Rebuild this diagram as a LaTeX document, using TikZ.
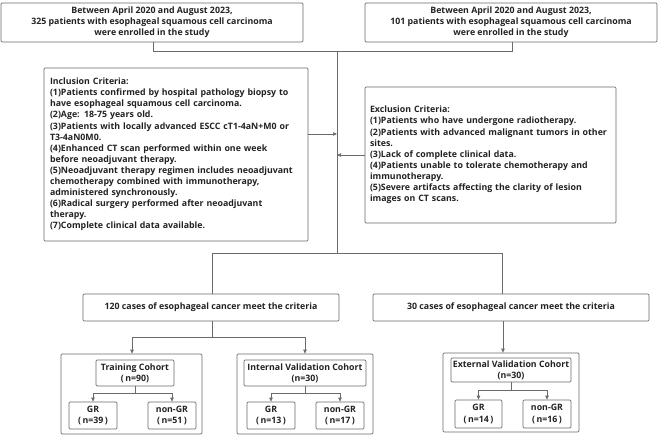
\documentclass[tikz,border=0pt]{standalone}
\usepackage{fontspec}
\setmainfont{Open Sans}
\usetikzlibrary{arrows.meta}
\definecolor{linegray}{HTML}{6A6A6A}
\definecolor{textgray}{HTML}{222222}
\begin{document}
\begin{tikzpicture}[
    x=1pt, y=-1pt,
    font=\fontsize{8.8}{11.1}\selectfont\bfseries,
    box/.style={draw=linegray, rounded corners=1.2pt, line width=0.7pt, text=textgray, inner sep=0pt},
    flowline/.style={draw=linegray, line width=0.7pt},
    flowarrow/.style={flowline, -{Triangle[length=4pt, width=3.4pt]}}
]
    \useasboundingbox (0,0) rectangle (661,437);

    % Enrolled patients
    \node[box, minimum width=302, minimum height=39, align=center] (enrolA) at (152,22.5)
        {Between April 2020 and August 2023,\\325 patients with esophageal squamous cell carcinoma\\were enrolled in the study};
    \node[box, minimum width=292, minimum height=39, align=center] (enrolB) at (511,22.5)
        {Between April 2020 and August 2023,\\101 patients with esophageal squamous cell carcinoma\\were enrolled in the study};

    % Criteria
    \node[box, minimum width=264, minimum height=173, text width=252, align=left] (incl) at (176,154.5)
        {Inclusion Criteria:\\
        (1)Patients confirmed by hospital pathology biopsy to\\
        have esophageal squamous cell carcinoma.\\
        (2)Age: 18-75 years old.\\
        (3)Patients with locally advanced ESCC cT1-4aN+M0 or\\
        T3-4aN0M0.\\
        (4)Enhanced CT scan performed within one week\\
        before neoadjuvant therapy.\\
        (5)Neoadjuvant therapy regimen includes neoadjuvant\\
        chemotherapy combined with immunotherapy,\\
        administered synchronously.\\
        (6)Radical surgery performed after neoadjuvant\\
        therapy.\\
        (7)Complete clinical data available.};
    \node[box, minimum width=251, minimum height=136, text width=241, align=left] (excl) at (490.5,155)
        {Exclusion Criteria:\\
        (1)Patients who have undergone radiotherapy.\\
        (2)Patients with advanced malignant tumors in other\\
        sites.\\
        (3)Lack of complete clinical data.\\
        (4)Patients unable to tolerate chemotherapy and\\
        immunotherapy.\\
        (5)Severe artifacts affecting the clarity of lesion\\
        images on CT scans.};

    % Eligible cases
    \node[box, minimum width=256, minimum height=27] (elig120) at (211,307.5)
        {120 cases of esophageal cancer meet the criteria};
    \node[box, minimum width=276, minimum height=27] (elig30) at (511,307.5)
        {30 cases of esophageal cancer meet the criteria};

    % Cohorts
    \node[box, minimum width=141, minimum height=80] (trainOut) at (131.5,394) {};
    \node[box, minimum width=78, minimum height=26, align=center] (trainIn) at (135,373)
        {Training Cohort\\(\,n=90)};
    \node[box, minimum width=48, minimum height=27, align=center] (trainGR) at (93,415.5)
        {GR\\(\,n=39\,)};
    \node[box, minimum width=48, minimum height=27, align=center] (trainNon) at (172,415.5)
        {non-GR\\(\,n=51\,)};

    \node[box, minimum width=136, minimum height=80] (intOut) at (305,394) {};
    \node[box, minimum width=122, minimum height=26, align=center] (intIn) at (305,373)
        {Internal Validation Cohort\\(n=30)};
    \node[box, minimum width=48, minimum height=27, align=center] (intGR) at (271,415.5)
        {GR\\(\,n=13\,)};
    \node[box, minimum width=48, minimum height=27, align=center] (intNon) at (340,415.5)
        {non-GR\\(\,n=17\,)};

    \node[box, minimum width=136, minimum height=79] (extOut) at (511,392.5) {};
    \node[box, minimum width=120, minimum height=24, align=center] (extIn) at (511,370)
        {External Validation Cohort\\(n=30)};
    \node[box, minimum width=47, minimum height=28, align=center] (extGR) at (478.5,414)
        {GR\\(\,n=14\,)};
    \node[box, minimum width=48, minimum height=28, align=center] (extNon) at (547,414)
        {non-GR\\(\,n=16\,)};

    % Junction points
    \coordinate (joinTop) at (337,51);
    \coordinate (joinBot) at (337,253);
    \coordinate (inclIn) at (337,134);
    \coordinate (exclOut) at (337,155);
    \coordinate (split) at (212,253);
    \coordinate (split120) at (212,337);
    \coordinate (splitTrain) at (135,393);
    \coordinate (splitInt) at (305,393);
    \coordinate (splitExt) at (511,390);

    % Main flow
    \draw[flowline] (enrolA.south -| 153,0) |- (joinTop);
    \draw[flowline] (enrolB.south -| 512,0) |- (joinTop);
    \draw[flowline] (joinTop) -- (joinBot);
    \draw[flowarrow] (incl.east |- inclIn) -- (inclIn);
    \draw[flowarrow] (excl.west) -- (exclOut);
    \draw[flowline] (split) -- (elig120.north -| split);
    \draw[flowline] (split) -| (elig30.north -| 502,0);

    % Split into cohorts
    \draw[flowline] (elig120.south -| split120) -- (split120);
    \draw[flowarrow] (split120) -| (trainOut.north -| 132,0);
    \draw[flowarrow] (split120) -| (intOut.north);
    \draw[flowarrow] (elig30.south -| 503,0) -- (extOut.north -| 503,0);

    % Split into GR / non-GR
    \draw[flowline] (trainIn.south) -- (splitTrain);
    \draw[flowarrow] (splitTrain) -| (trainGR.north);
    \draw[flowarrow] (splitTrain) -| (trainNon.north);
    \draw[flowline] (intIn.south) -- (splitInt);
    \draw[flowarrow] (splitInt) -| (intGR.north);
    \draw[flowarrow] (splitInt) -| (intNon.north);
    \draw[flowline] (extIn.south) -- (splitExt);
    \draw[flowarrow] (splitExt) -| (extGR.north);
    \draw[flowarrow] (splitExt) -| (extNon.north);

\end{tikzpicture}
\end{document}
